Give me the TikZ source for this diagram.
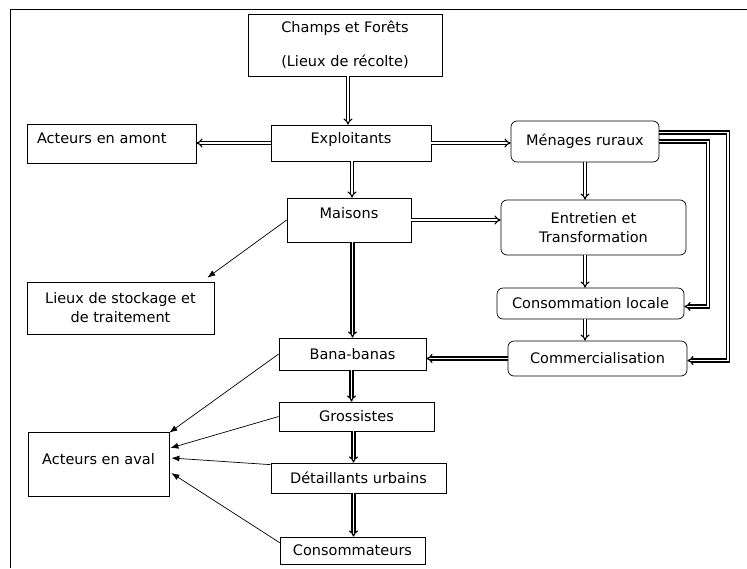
\documentclass[tikz,border=0pt]{standalone}
\usepackage{fontspec}
\setmainfont{DejaVu Sans}
\usetikzlibrary{arrows.meta,positioning,calc}

\tikzset{
  box/.style={draw, line width=0.7pt, inner sep=2pt, align=center,
    font=\fontsize{14.5}{19}\selectfont},
  rbox/.style={box, rounded corners=6pt},
  lift/.style={text height=11pt, text depth={#1}},
  dbl/.style={double, double distance=1.8pt, line width=1.15pt, -{Implies}},
  sgl/.style={line width=0.7pt, -{Latex[length=8pt,width=6pt]}},
}

\begin{document}
\begin{tikzpicture}[x=1pt,y=-1pt]
\useasboundingbox (0,0) rectangle (747,568);
% frame
\draw[line width=1pt] (747,9) -- (10,9) -- (10,568);
% nodes
\node[box, minimum width=194pt, minimum height=62pt] (champs) at (345,45) {Champs et Forêts\\[15pt](Lieux de récolte)};
\node[box, lift=9.4pt, minimum width=160pt, minimum height=36pt] (expl) at (351,143) {Exploitants};
\node[box, lift=11.4pt, minimum width=169pt, minimum height=39pt, inner xsep=10pt, text width=149pt, align=left] (amont) at (111.5,143.5) {Acteurs en amont};
\node[rbox, minimum width=148pt, minimum height=41pt] (menages) at (585,141.5) {Ménages ruraux};
\node[box, lift=14.4pt, minimum width=124pt, minimum height=44pt] (maisons) at (349,220) {Maisons};
\node[rbox, minimum width=185pt, minimum height=55pt] (entretien) at (593.5,227.5) {Entretien et\\Transformation};
\node[box, minimum width=187pt, minimum height=52pt] (lieux) at (120.5,308) {Lieux de stockage et\\de traitement};
\node[rbox, minimum width=187pt, minimum height=31pt] (conso) at (590.5,303.5) {Consommation locale};
\node[rbox, minimum width=179pt, minimum height=35pt] (comm) at (597.5,358.5) {Commercialisation};
\node[box, minimum width=147pt, minimum height=32pt] (bana) at (352.5,354) {Bana-banas};
\node[box, minimum width=155pt, minimum height=29pt] (gros) at (356.5,416.5) {Grossistes};
\node[box, minimum width=175pt, minimum height=30pt] (detail) at (358.5,478) {Détaillants urbains};
\node[box, minimum width=145pt, minimum height=27pt] (consom) at (352.5,550.5) {Consommateurs};
\node[box, lift=10.4pt, minimum width=141pt, minimum height=64pt] (aval) at (98.5,464) {Acteurs en aval};

% double flows
\draw[dbl] ([xshift=3pt]champs.south) -- ([xshift=3pt]champs.south |- expl.north);
\draw[dbl] (expl.west) -- (expl.west -| amont.east);
\draw[dbl] (expl.east) -- (expl.east -| menages.west);
\draw[dbl] ([xshift=1pt]expl.south) -- ([xshift=1pt]expl.south |- maisons.north);
\draw[dbl] (maisons.east) -- (maisons.east -| entretien.west);
\draw[dbl] (menages.south) -- (menages.south |- entretien.north);
\draw[dbl] (menages.south |- entretien.south) -- (menages.south |- conso.north);
\draw[dbl] (menages.south |- conso.south) -- (menages.south |- comm.north);
\draw[dbl] (comm.west) -- (comm.west -| bana.east);
\draw[dbl] (bana.north |- maisons.south) -- (bana.north);
\draw[dbl] ([xshift=-1pt]bana.south) -- ([xshift=-1pt]bana.south |- gros.north);
\draw[dbl] ([xshift=-3pt]gros.south) -- ([xshift=-3pt]gros.south |- detail.north);
\draw[dbl] ([xshift=-5pt]detail.south) -- ([xshift=-5pt]detail.south |- consom.north);
\draw[dbl] (menages.east) -- ++(49,0) |- ([yshift=-3pt]conso.east);
\draw[dbl] ([yshift=9pt]menages.east) -- ++(69,0) |- ([yshift=-2pt]comm.east);

% single flows
\draw[sgl] (maisons.west) -- ([xshift=-7pt,yshift=4pt]lieux.north east);
\draw[sgl] (bana.west) -- ([yshift=-1pt]aval.north east);
\draw[sgl] (gros.west) -- ([xshift=1pt,yshift=16pt]aval.east);
\draw[sgl] ([yshift=-2pt]detail.north west) -- ([xshift=2pt,yshift=6pt]aval.east);
\draw[sgl] ([yshift=-6pt]consom.north west) -- ([xshift=2pt,yshift=-9pt]aval.east);
\end{tikzpicture}
\end{document}
